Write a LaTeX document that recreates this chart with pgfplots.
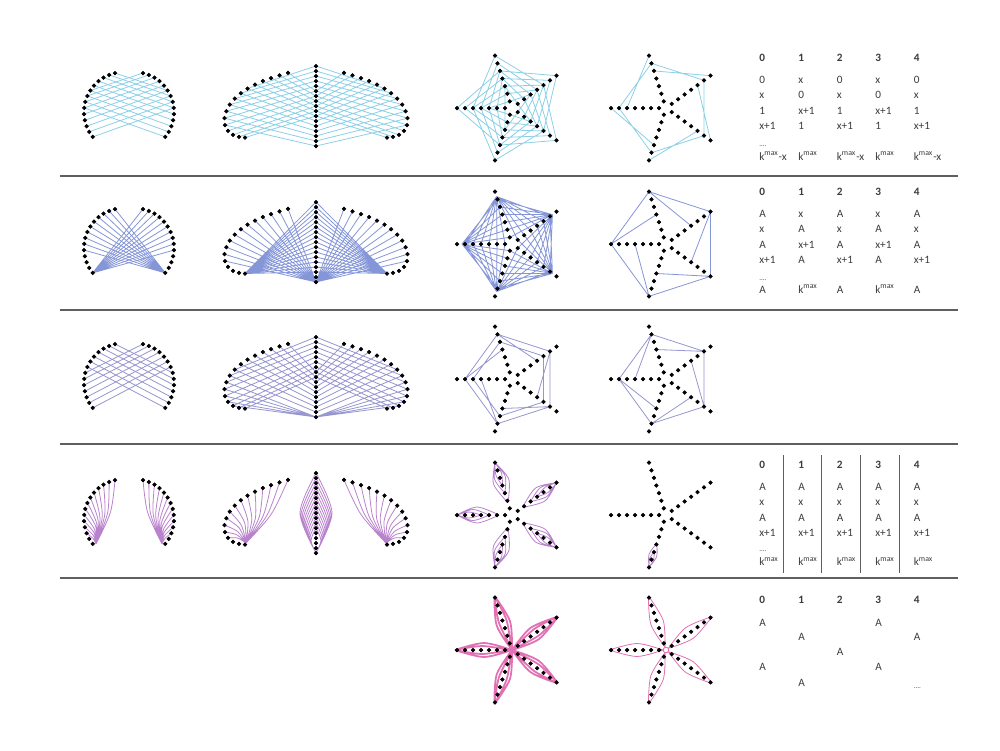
\documentclass[border=0pt]{standalone}
\usepackage{fontspec}
\setmainfont{Carlito}
\usepackage{pgfplots}
\usepackage{pgfplotstable}
\pgfplotsset{compat=1.18}

\definecolor{cA}{RGB}{140,208,232}
\definecolor{cB}{RGB}{132,150,216}
\definecolor{cC}{RGB}{150,150,208}
\definecolor{cD}{RGB}{185,130,205}
\definecolor{cE}{RGB}{226,112,178}
\definecolor{txt}{RGB}{60,60,60}
\definecolor{sepc}{RGB}{95,95,95}

% ---------- dots ----------
\pgfplotstableread{
x y
115.0 73.0
109.1 74.9
103.5 77.6
98.5 81.2
94.0 85.5
90.3 90.5
87.4 95.9
85.3 101.8
84.2 107.9
84.1 114.1
84.9 120.2
86.6 126.2
89.2 131.8
92.7 136.9
}\heartL
\pgfplotstableread{
x y
288.0 72.8
279.5 75.3
271.0 78.0
262.8 81.0
255.0 84.5
247.5 88.5
240.8 93.2
234.8 98.6
229.8 104.6
226.3 111.2
224.5 118.2
225.0 125.0
228.0 130.8
233.0 134.8
239.0 136.8
245.0 137.5
}\wingL
\pgfplotstableread{
x y
316 66
316 71
316 76
316 81
316 86
316 91
316 96
316 101
316 106
316 111
316 116
316 121
316 126
316 131
316 136
316 141
316 146
}\spine
\pgfplotstableread{
x y
-7 0
-15 0
-23 0
-31 0
-39 0
-47 0
-55 0
-2.16 -6.66
-4.64 -14.27
-7.11 -21.87
-9.58 -29.48
-12.05 -37.09
-14.52 -44.70
-17.00 -52.31
5.66 -4.11
12.14 -8.82
18.61 -13.52
25.08 -18.22
31.55 -22.92
38.02 -27.63
44.50 -32.33
5.66 4.11
12.14 8.82
18.61 13.52
25.08 18.22
31.55 22.92
38.02 27.63
44.50 32.33
-2.16 6.66
-4.64 14.27
-7.11 21.87
-9.58 29.48
-12.05 37.09
-14.52 44.70
-17.00 52.31
}\starD

% ---------- heart lines ----------
\pgfplotstableread{
x y
115.0 73.0
167.7 90.5
nan nan
109.1 74.9
170.6 95.9
nan nan
103.5 77.6
172.7 101.8
nan nan
98.5 81.2
173.8 107.9
nan nan
94.0 85.5
173.9 114.1
nan nan
90.3 90.5
173.1 120.2
nan nan
87.4 95.9
171.4 126.2
nan nan
85.3 101.8
168.8 131.8
nan nan
84.2 107.9
165.3 136.9
}\hOne
\pgfplotstableread{
x y
115.0 73.0
165.3 136.9
nan nan
109.1 74.9
165.3 136.9
nan nan
103.5 77.6
165.3 136.9
nan nan
98.5 81.2
165.3 136.9
nan nan
94.0 85.5
165.3 136.9
nan nan
90.3 90.5
165.3 136.9
nan nan
87.4 95.9
165.3 136.9
nan nan
85.3 101.8
165.3 136.9
nan nan
84.2 107.9
165.3 136.9
nan nan
84.1 114.1
165.3 136.9
}\hTwo
\pgfplotstableread{
x y
115.0 73.0
172.7 101.8
nan nan
109.1 74.9
173.8 107.9
nan nan
103.5 77.6
173.9 114.1
nan nan
98.5 81.2
173.1 120.2
nan nan
94.0 85.5
171.4 126.2
nan nan
90.3 90.5
168.8 131.8
nan nan
87.4 95.9
165.3 136.9
}\hThree
\pgfplotstableread{
x y
115.0 73.0
110.5 105.0
96 137
nan nan
109.1 74.9
107.6 106.0
96 137
nan nan
103.5 77.6
104.8 107.3
96 137
nan nan
98.5 81.2
102.3 109.1
96 137
nan nan
94.0 85.5
100.0 111.3
96 137
nan nan
90.3 90.5
98.2 113.8
96 137
nan nan
87.4 95.9
96.7 116.5
96 137
nan nan
85.3 101.8
95.7 119.4
96 137
nan nan
84.2 107.9
94.6 122.5
96 137
nan nan
84.1 114.1
94.0 125.6
96 137
nan nan
84.9 120.2
93.5 128.6
96 137
nan nan
86.6 126.2
93.3 131.6
96 137
}\hFour

% ---------- wing lines ----------
\pgfplotstableread{
x y
288.0 72.8
316 91
nan nan
279.5 75.3
316 96
nan nan
271.0 78.0
316 101
nan nan
262.8 81.0
316 106
nan nan
255.0 84.5
316 111
nan nan
247.5 88.5
316 116
nan nan
240.8 93.2
316 121
nan nan
234.8 98.6
316 126
nan nan
229.8 104.6
316 131
nan nan
226.3 111.2
316 136
nan nan
224.5 118.2
316 141
nan nan
225.0 125.0
316 146
nan nan
316 66
247.5 88.5
nan nan
316 71
240.8 93.2
nan nan
316 76
234.8 98.6
nan nan
316 81
229.8 104.6
nan nan
316 86
226.3 111.2
nan nan
316 91
224.5 118.2
nan nan
316 96
225.0 125.0
nan nan
316 101
228.0 130.8
nan nan
316 106
233.0 134.8
nan nan
316 111
239.0 136.8
nan nan
316 116
245.0 137.5
}\wOne
\pgfplotstableread{
x y
288.0 72.8
316 146
nan nan
279.5 75.3
316 146
nan nan
271.0 78.0
316 146
nan nan
262.8 81.0
316 146
nan nan
255.0 84.5
316 146
nan nan
247.5 88.5
316 146
nan nan
240.8 93.2
316 146
nan nan
234.8 98.6
316 146
nan nan
229.8 104.6
316 146
nan nan
226.3 111.2
316 146
nan nan
224.5 118.2
316 146
nan nan
225.0 125.0
316 146
nan nan
316 66
245 137.5
nan nan
316 71
245 137.5
nan nan
316 76
245 137.5
nan nan
316 81
245 137.5
nan nan
316 86
245 137.5
nan nan
316 91
245 137.5
nan nan
316 96
245 137.5
nan nan
316 101
245 137.5
nan nan
316 106
245 137.5
nan nan
316 111
245 137.5
nan nan
316 116
245 137.5
nan nan
316 121
245 137.5
nan nan
316 126
245 137.5
nan nan
316 131
245 137.5
nan nan
316 136
245 137.5
}\wTwo
\pgfplotstableread{
x y
288.0 72.8
316 101
nan nan
279.5 75.3
316 106
nan nan
271.0 78.0
316 111
nan nan
262.8 81.0
316 116
nan nan
255.0 84.5
316 121
nan nan
247.5 88.5
316 126
nan nan
240.8 93.2
316 131
nan nan
234.8 98.6
316 136
nan nan
229.8 104.6
316 141
nan nan
226.3 111.2
316 146
nan nan
224.5 118.2
316 146
nan nan
225.0 125.0
316 146
nan nan
228.0 130.8
316 146
nan nan
233.0 134.8
316 146
nan nan
316 66
234.8 98.6
nan nan
316 71
229.8 104.6
nan nan
316 76
226.3 111.2
nan nan
316 81
224.5 118.2
nan nan
316 86
225.0 125.0
nan nan
316 91
228.0 130.8
nan nan
316 96
233.0 134.8
nan nan
316 101
239.0 136.8
nan nan
316 106
245.0 137.5
}\wThree
\pgfplotstableread{
x y
288.0 72.8
271.2 107.2
246 136
nan nan
279.5 75.3
267.1 108.1
246 136
nan nan
271.0 78.0
263.1 109.0
246 136
nan nan
262.8 81.0
259.2 110.0
246 136
nan nan
255.0 84.5
255.4 111.1
246 136
nan nan
247.5 88.5
251.8 112.4
246 136
nan nan
240.8 93.2
247.9 114.1
246 136
nan nan
234.8 98.6
244.7 116.0
246 136
nan nan
229.8 104.6
241.5 118.5
246 136
nan nan
226.3 111.2
239.3 121.1
246 136
nan nan
224.5 118.2
237.5 124.4
246 136
nan nan
225.0 125.0
236.9 127.8
246 136
nan nan
228.0 130.8
237.8 131.0
246 136
nan nan
316 66
300 106
316 146
nan nan
316 71
301 108.5
316 146
nan nan
316 76
302 111
316 146
nan nan
316 81
303 113.5
316 146
nan nan
316 86
304 116
316 146
nan nan
316 91
305 118.5
316 146
nan nan
316 96
306 121
316 146
nan nan
316 101
307 123.5
316 146
nan nan
316 106
308 126
316 146
nan nan
316 111
309 128.5
316 146
nan nan
316 116
310 131
316 146
nan nan
316 121
311 133.5
316 146
}\wFour

% ---------- star patterns (one arm pair, local coords) ----------
\pgfplotstableread{
x y
-7 0
-7.11 -21.87
nan nan
-15 0
-9.58 -29.48
nan nan
-23 0
-12.05 -37.09
nan nan
-31 0
-14.52 -44.70
nan nan
-39 0
-17.00 -52.31
nan nan
-23 0
-2.16 -6.66
nan nan
-31 0
-4.64 -14.27
nan nan
-39 0
-7.11 -21.87
nan nan
-47 0
-9.58 -29.48
nan nan
-55 0
-12.05 -37.09
}\sOneA
\pgfplotstableread{
x y
-47 0
-14.52 -44.70
nan nan
-39 0
-17.00 -52.31
}\sOneB
\pgfplotstableread{
x y
-50 0
-2.16 -6.66
nan nan
-50 0
-4.64 -14.27
nan nan
-50 0
-7.11 -21.87
nan nan
-50 0
-9.58 -29.48
nan nan
-50 0
-12.05 -37.09
nan nan
-50 0
-14.52 -44.70
nan nan
-15.45 -47.55
-7 0
nan nan
-15.45 -47.55
-15 0
nan nan
-15.45 -47.55
-23 0
nan nan
-15.45 -47.55
-31 0
nan nan
-15.45 -47.55
-39 0
nan nan
-15.45 -47.55
-47 0
}\sTwoA
\pgfplotstableread{
x y
-55 0
-17.00 -52.31
nan nan
-55 0
-9.58 -29.48
}\sTwoB
\pgfplotstableread{
x y
-47 0
-14.52 -44.70
nan nan
-39 0
-12.05 -37.09
nan nan
-47 0
-9.58 -29.48
}\sThreeA
\pgfplotstableread{
x y
-47 0
-14.52 -44.70
nan nan
-31 0
-14.52 -44.70
}\sThreeB
\pgfplotstableread{
x y
-55 0
-35 -8
-13 0
nan nan
-55 0
-35 8
-13 0
nan nan
-55 0
-39 -5.5
-23 0
nan nan
-55 0
-39 5.5
-23 0
nan nan
-55 0
-43 -3
-31 0
nan nan
-55 0
-43 3
-31 0
}\sFourA
\pgfplotstableread{
x y
-55 0
-42.5 -4
-30 0
nan nan
-55 0
-42.5 4
-30 0
nan nan
-55 0
-46.5 -2
-38 0
nan nan
-55 0
-46.5 2
-38 0
}\sFourB
\pgfplotstableread{
x y
-57 0
-28 -7
0 0
nan nan
-57 0
-28 7
0 0
nan nan
-57 0
-30 -4
-3 0
nan nan
-57 0
-30 4
-3 0
}\sFiveA
\pgfplotstableread{
x y
-57 0
-29 -6.5
-3 0
nan nan
-57 0
-29 6.5
-3 0
}\sFiveB

\pgfplotsset{
  dots/.style={only marks, mark=*, mark size=1.0pt, color=black, mark options={fill=black,draw=black}},
  ln/.style={no markers, line width=0.45pt, color=#1},
  cv/.style={no markers, smooth, line width=0.45pt, color=#1},
}
\tikzset{tb/.style={anchor=base west, inner sep=0pt, text=txt, font=\fontsize{6.4}{7}\selectfont}}

\newcommand\mirrorpair[4]{%
  \addplot[#1] table[x expr={\thisrow{x}}, y expr={\thisrow{y}+#4}] {#2};
  \addplot[#1] table[x expr={#3-\thisrow{x}}, y expr={\thisrow{y}+#4}] {#2};}
\newcommand\starlines[4]{%
  \pgfplotsinvokeforeach{0,72,144,216,288}{%
    \addplot[#1] table[x expr={#3+\thisrow{x}*cos(##1)-\thisrow{y}*sin(##1)},
                       y expr={#4+\thisrow{x}*sin(##1)+\thisrow{y}*cos(##1)}] {#2};}}
\newcommand\figdots[1]{%
  \addplot[dots] table[x expr={\thisrow{x}}, y expr={\thisrow{y}+#1}] {\heartL};
  \addplot[dots] table[x expr={258-\thisrow{x}}, y expr={\thisrow{y}+#1}] {\heartL};
  \addplot[dots] table[x expr={\thisrow{x}}, y expr={\thisrow{y}+#1}] {\wingL};
  \addplot[dots] table[x expr={632-\thisrow{x}}, y expr={\thisrow{y}+#1}] {\wingL};
  \addplot[dots] table[x expr={\thisrow{x}}, y expr={\thisrow{y}+#1}] {\spine};}
\newcommand\stardots[2]{%
  \addplot[dots] table[x expr={#1+\thisrow{x}}, y expr={#2+\thisrow{y}}] {\starD};}

\newcommand\tx[3]{\node[tb] at (axis cs:#1,#2) {#3};}
\newcommand\trow[6]{\tx{759}{#1}{#2}\tx{798}{#1}{#3}\tx{836.5}{#1}{#4}\tx{875}{#1}{#5}\tx{913.5}{#1}{#6}}
\newcommand\hrow[1]{\trow{#1}{\textbf{0}}{\textbf{1}}{\textbf{2}}{\textbf{3}}{\textbf{4}}}
\newcommand\kmax{k\textsuperscript{max}}
\newcommand\tdots[2]{\node[tb,font=\fontsize{4}{4}\selectfont] at (axis cs:#1,#2) {....};}

\begin{document}
\begin{tikzpicture}
\fill[white] (0,0) rectangle (20cm,15cm);
\begin{axis}[at={(0,0)}, anchor=south west, scale only axis,
  width=20cm, height=15cm, xmin=0, xmax=1000, ymin=0, ymax=750,
  y dir=reverse, hide axis, clip=false, unbounded coords=jump]

% separators
\draw[sepc, line width=0.8pt] (axis cs:60,176) -- (axis cs:958,176);
\draw[sepc, line width=0.8pt] (axis cs:60,310) -- (axis cs:958,310);
\draw[sepc, line width=0.8pt] (axis cs:60,444) -- (axis cs:958,444);
\draw[sepc, line width=0.8pt] (axis cs:60,578) -- (axis cs:958,578);

% ===== row 1 =====
\mirrorpair{ln=cA}{\hOne}{258}{0}
\mirrorpair{ln=cA}{\wOne}{632}{0}
\starlines{ln=cA}{\sOneA}{512}{108}
\starlines{ln=cA}{\sOneB}{666}{108}
\figdots{0}
\stardots{512}{108}
\stardots{666}{108}

% ===== row 2 =====
\mirrorpair{ln=cB}{\hTwo}{258}{136}
\mirrorpair{ln=cB}{\wTwo}{632}{136}
\starlines{ln=cB}{\sTwoA}{512}{244}
\starlines{ln=cB}{\sTwoB}{666}{244}
\figdots{136}
\stardots{512}{244}
\stardots{666}{244}

% ===== row 3 =====
\mirrorpair{ln=cC}{\hThree}{258}{271}
\mirrorpair{ln=cC}{\wThree}{632}{271}
\starlines{ln=cC}{\sThreeA}{512}{379}
\starlines{ln=cC}{\sThreeB}{666}{379}
\figdots{271}
\stardots{512}{379}
\stardots{666}{379}

% ===== row 4 =====
\mirrorpair{cv=cD}{\hFour}{258}{407}
\mirrorpair{cv=cD}{\wFour}{632}{407}
\starlines{cv=cD}{\sFourA}{512}{515}
\addplot[cv=cD] table[x expr={666+0.30902*\thisrow{x}+0.95106*\thisrow{y}},
                      y expr={515-0.95106*\thisrow{x}+0.30902*\thisrow{y}}] {\sFourB};
\figdots{407}
\stardots{512}{515}
\stardots{666}{515}

% ===== row 5 =====
\starlines{cv=cE, line width=1.0pt}{\sFiveA}{512}{650}
\starlines{cv=cE}{\sFiveB}{666}{650}
\addplot[only marks, mark=o, mark size=1.6pt, mark options={draw=cE, line width=0.5pt}] coordinates {(666,650)};
\stardots{512}{650}
\stardots{666}{650}

% ===== tables =====
\hrow{61.6}
\trow{83.3}{0}{x}{0}{x}{0}
\trow{98.6}{x}{0}{x}{0}{x}
\trow{114}{1}{x+1}{1}{x+1}{1}
\trow{129.3}{x+1}{1}{x+1}{1}{x+1}
\tdots{759}{146}
\trow{160}{\kmax-x}{\kmax}{\kmax-x}{\kmax}{\kmax-x}

\hrow{195.6}
\trow{217.3}{A}{x}{A}{x}{A}
\trow{232.6}{x}{A}{x}{A}{x}
\trow{248}{A}{x+1}{A}{x+1}{A}
\trow{263.3}{x+1}{A}{x+1}{A}{x+1}
\tdots{759}{280}
\trow{293}{A}{\kmax}{A}{\kmax}{A}

\hrow{468.6}
\trow{490.3}{A}{A}{A}{A}{A}
\trow{505.6}{x}{x}{x}{x}{x}
\trow{521}{A}{A}{A}{A}{A}
\trow{536.3}{x+1}{x+1}{x+1}{x+1}{x+1}
\tdots{759}{551}
\trow{565.5}{\kmax}{\kmax}{\kmax}{\kmax}{\kmax}
\draw[sepc, line width=0.6pt] (axis cs:783.3,455) -- (axis cs:783.3,573);
\draw[sepc, line width=0.6pt] (axis cs:821.7,455) -- (axis cs:821.7,573);
\draw[sepc, line width=0.6pt] (axis cs:860.7,455) -- (axis cs:860.7,573);
\draw[sepc, line width=0.6pt] (axis cs:899.3,455) -- (axis cs:899.3,573);

\hrow{603.6}
\tx{759}{626}{A}\tx{875}{626}{A}
\tx{798}{640}{A}\tx{913.5}{640}{A}
\tx{836.5}{655}{A}
\tx{759}{670.6}{A}\tx{875}{670.6}{A}
\tx{798}{686}{A}
\tdots{913.5}{688}
\end{axis}
\end{tikzpicture}
\end{document}
